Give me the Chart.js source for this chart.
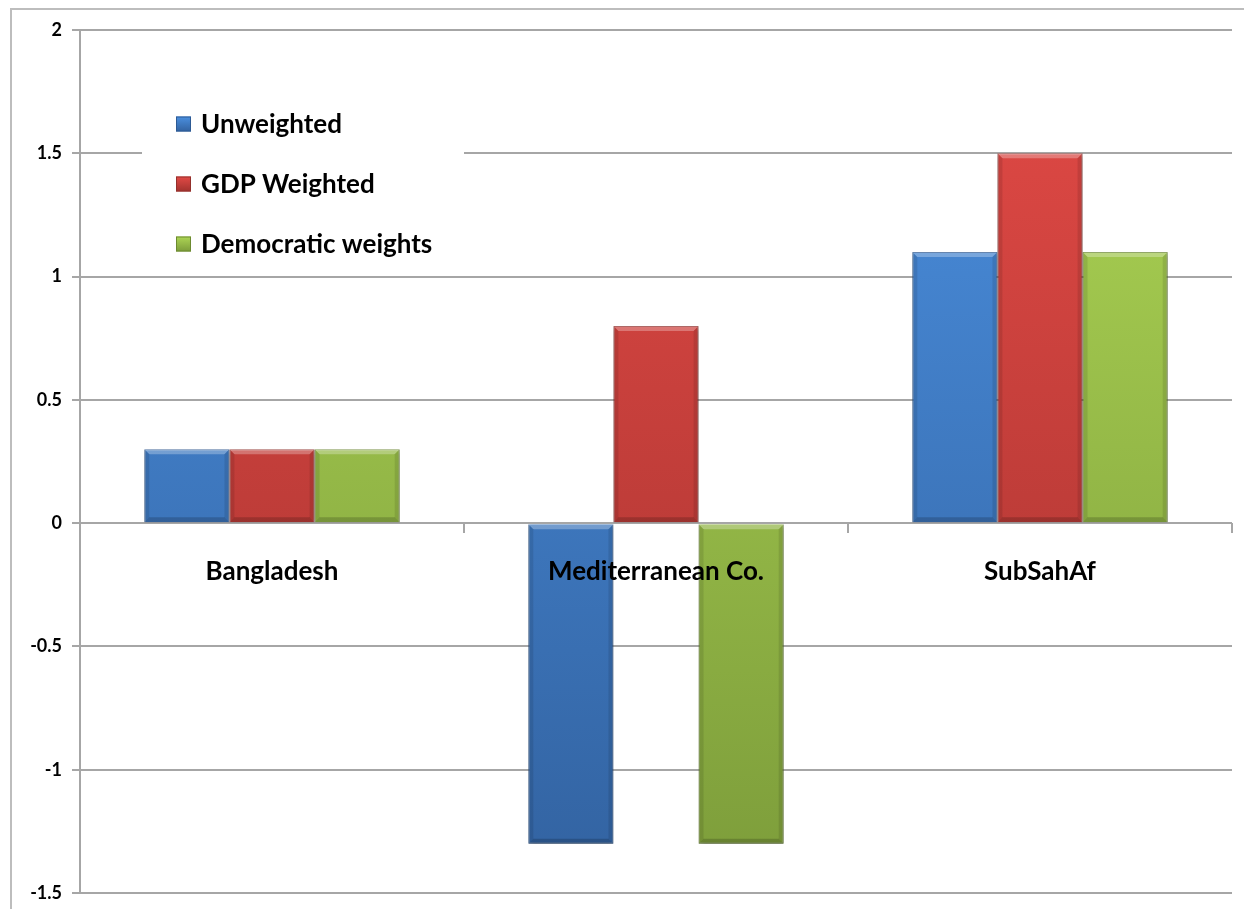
<!DOCTYPE html>
<html>
<head>
<meta charset="utf-8">
<title>Weighted comparison</title>
<script src="https://cdn.jsdelivr.net/npm/chart.js@4.4.1/dist/chart.umd.min.js"></script>
<style>
  html, body { margin: 0; padding: 0; background: #fff; overflow: hidden; }
  #wrap { position: relative; width: 1244px; height: 909px; }
</style>
</head>
<body>
<div id="wrap"><canvas id="chart" width="1244" height="909"></canvas></div>
<script>
// categories and series
const regions = ['Bangladesh', 'Mediterranean Co.', 'SubSahAf'];
const unweighted = [0.3, -1.3, 1.1];
const gdpWeighted = [0.3, 0.8, 1.5];
const democraticWeights = [0.3, -1.3, 1.1];
const seriesNames = ['Unweighted', 'GDP Weighted', 'Democratic weights'];
const yTicks = [-1.5, -1, -0.5, 0, 0.5, 1, 1.5, 2];

const FONT = 'Lato, "Open Sans", sans-serif';

// light/dark ends of each bar gradient
const palette = [
  { top: '#4b90e0', bottom: '#3262a0', border: '#2d5a94', key: '#3f7fcf' },
  { top: '#e34a46', bottom: '#a2322e', border: '#93302c', key: '#cf403c' },
  { top: '#aed655', bottom: '#7c9c3a', border: '#6c8a30', key: '#98c048' }
];

function gradientFor(i) {
  return function (ctx) {
    const area = ctx.chart.chartArea;
    if (!area) return palette[i].key;
    const g = ctx.chart.ctx.createLinearGradient(0, area.top, 0, area.bottom);
    g.addColorStop(0, palette[i].top);
    g.addColorStop(1, palette[i].bottom);
    return g;
  };
}

// thin frame around the whole chart
const frame = {
  id: 'frame',
  beforeDraw(chart) {
    const c = chart.ctx;
    c.save();
    c.strokeStyle = '#bdbdbd';
    c.lineWidth = 2;
    c.beginPath();
    c.moveTo(11, chart.height);
    c.lineTo(11, 9);
    c.lineTo(chart.width, 9);
    c.stroke();
    c.restore();
  }
};

// soft drop shadow under the bars, then a bevelled rim on top of each one
const barShadow = {
  id: 'barShadow',
  beforeDatasetsDraw(chart) {
    const c = chart.ctx;
    c.save();
    c.shadowColor = 'rgba(0,0,0,0.28)';
    c.shadowBlur = 5;
    c.shadowOffsetX = 1;
    c.shadowOffsetY = 2;
  },
  afterDatasetsDraw(chart) {
    const c = chart.ctx;
    c.restore();
    const b = 5;
    chart.data.datasets.forEach((ds, di) => {
      chart.getDatasetMeta(di).data.forEach(bar => {
        const { x, y, base, width } = bar.getProps(['x', 'y', 'base', 'width'], true);
        const l = x - width / 2, r = x + width / 2;
        const t = Math.min(y, base), btm = Math.max(y, base);
        if (btm - t < 2 * b) return;
        c.save();
        // lit top edge
        c.fillStyle = 'rgba(255,255,255,0.28)';
        c.beginPath();
        c.moveTo(l, t); c.lineTo(r, t); c.lineTo(r - b, t + b); c.lineTo(l + b, t + b);
        c.closePath(); c.fill();
        // shaded sides and bottom
        c.fillStyle = 'rgba(0,0,0,0.10)';
        c.beginPath();
        c.moveTo(l, t); c.lineTo(l + b, t + b); c.lineTo(l + b, btm - b); c.lineTo(l, btm);
        c.closePath(); c.fill();
        c.beginPath();
        c.moveTo(r, t); c.lineTo(r - b, t + b); c.lineTo(r - b, btm - b); c.lineTo(r, btm);
        c.closePath(); c.fill();
        c.fillStyle = 'rgba(0,0,0,0.18)';
        c.beginPath();
        c.moveTo(l, btm); c.lineTo(l + b, btm - b); c.lineTo(r - b, btm - b); c.lineTo(r, btm);
        c.closePath(); c.fill();
        c.restore();
      });
    });
  }
};

// legend sitting inside the plot, upper left, on a white card
const insideLegend = {
  id: 'insideLegend',
  afterDraw(chart) {
    const c = chart.ctx;
    const x0 = 142, y0 = 96, w = 322, h = 176;
    c.save();
    c.fillStyle = '#ffffff';
    c.fillRect(x0, y0, w, h);
    c.font = 'bold 26px ' + FONT;
    c.textBaseline = 'middle';
    chart.data.datasets.forEach((ds, i) => {
      const cy = 124 + i * 60;
      const bx = 176, size = 15;
      const g = c.createLinearGradient(0, cy - size / 2, 0, cy + size / 2);
      g.addColorStop(0, palette[i].top);
      g.addColorStop(1, palette[i].bottom);
      c.fillStyle = g;
      c.fillRect(bx, cy - size / 2, size, size);
      c.strokeStyle = palette[i].border;
      c.lineWidth = 1;
      c.strokeRect(bx + 0.5, cy - size / 2 + 0.5, size - 1, size - 1);
      c.fillStyle = '#000000';
      c.fillText(ds.label, 201, cy + 1);
    });
    c.restore();
  }
};

const seriesData = [unweighted, gdpWeighted, democraticWeights];

new Chart(document.getElementById('chart'), {
  type: 'bar',
  data: {
    labels: regions,
    datasets: seriesData.map((values, i) => ({
      label: seriesNames[i],
      data: values,
      backgroundColor: gradientFor(i),
      borderColor: palette[i].border,
      borderWidth: 1,
      categoryPercentage: 0.665,
      barPercentage: 1.0
    }))
  },
  options: {
    responsive: false,
    animation: false,
    layout: { padding: { left: 0, top: 30, right: 12, bottom: 16 } },
    plugins: {
      legend: { display: false },
      tooltip: { enabled: false },
      title: { display: false }
    },
    scales: {
      x: {
        position: { y: 0 },
        grid: {
          offset: true,
          drawOnChartArea: false,
          drawTicks: true,
          tickLength: 10,
          color: '#a6a6a6',
          lineWidth: 2
        },
        border: { display: false },
        ticks: {
          z: 1, // category names are painted over the bars
          padding: 23,
          color: '#000000',
          font: { family: FONT, size: 26, weight: 'bold' }
        }
      },
      y: {
        min: -1.5,
        max: 2,
        afterBuildTicks(scale) {
          scale.ticks = yTicks.map(v => ({ value: v }));
        },
        afterFit(scale) {
          scale.width = 80;
          // plot edges come from layout.padding alone
          scale.paddingTop = 0;
          scale.paddingBottom = 0;
        },
        grid: {
          color: '#a6a6a6',
          lineWidth: 2,
          tickLength: 8
        },
        border: { display: true, color: '#a6a6a6', width: 2 },
        ticks: {
          padding: 10,
          color: '#000000',
          font: { family: FONT, size: 18, weight: 'bold' },
          callback: v => String(v)
        }
      }
    }
  },
  plugins: [frame, barShadow, insideLegend]
});
</script>
</body>
</html>
